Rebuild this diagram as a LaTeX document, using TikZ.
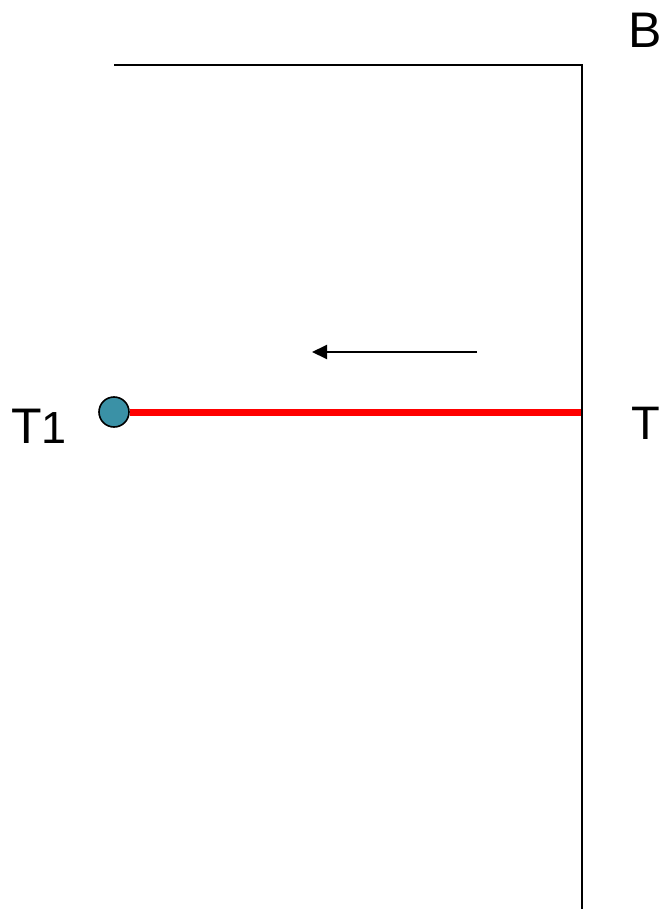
\documentclass[tikz,border=0pt]{standalone}
\usepackage{fontspec}
\setmainfont{Liberation Sans}
\usetikzlibrary{arrows.meta}
\definecolor{dotteal}{RGB}{58,145,166}
\definecolor{linered}{RGB}{255,0,0}
\tikzset{
  wall/.style={draw=black,line width=2pt},
  redline/.style={draw=linered,line width=7pt},
  dot/.style={circle,draw=black,line width=1.6pt,fill=dotteal,minimum size=30pt,inner sep=0pt},
  lbl/.style={anchor=base west,inner sep=0pt,font=\fontsize{50}{60}\selectfont},
  motion/.style={draw=black,line width=2pt,-{Triangle[length=15pt,width=14pt]}}
}
\begin{document}
\begin{tikzpicture}[x=1pt,y=-1pt]
\useasboundingbox (0,0) rectangle (661,909);
\coordinate (topleft) at (114,65);
\coordinate (corner) at (582,65);
\coordinate (bottom) at (582,909);
\coordinate (tjoin) at (582,412);
\node[dot] (t1dot) at (114,412) {};
\draw[redline] (t1dot.east) -- (tjoin);
\draw[wall] (topleft) -- (corner) -- (bottom);
\coordinate (atail) at (477,352);
\coordinate (ahead) at (312,352);
\draw[motion] (atail) -- (ahead);
\node[lbl] (labB) at (628,48) {B};
\node[lbl] (labT1) at (11,443) {T{\fontsize{45}{54}\selectfont 1}};
\node[lbl,font=\fontsize{47}{56}\selectfont] (labT) at (631,439) {T};
\end{tikzpicture}
\end{document}
